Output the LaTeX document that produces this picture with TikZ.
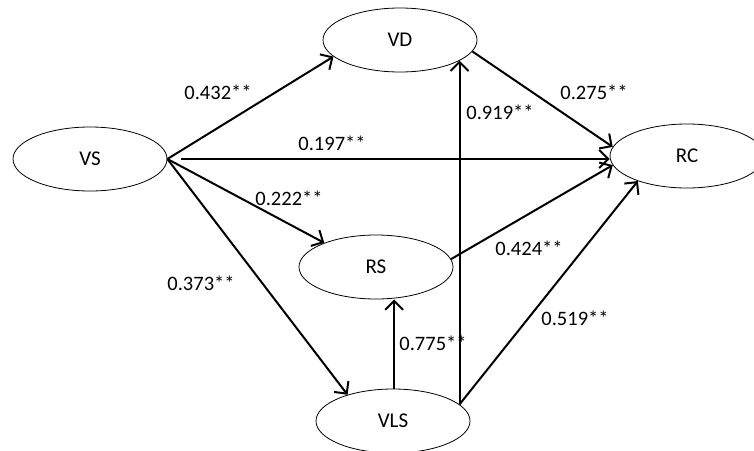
\documentclass[tikz,border=0pt]{standalone}
\usepackage{fontspec}
\setmainfont{Carlito}
\usetikzlibrary{shapes.geometric,arrows.meta}
\begin{document}
\begin{tikzpicture}[x=1pt,y=-1pt,
  lat/.style={ellipse,draw,line width=0.8pt,minimum width=154pt,minimum height=64pt,inner sep=0pt,font=\fontsize{21}{24}\selectfont},
  arr/.style={line width=2pt,-{Straight Barb[length=9pt,width=18pt,line width=2pt]}},
  coef/.style={font=\fontsize{20.5}{24}\selectfont,inner sep=0pt}]
\useasboundingbox (0,0) rectangle (754,450);
\clip (0,0) rectangle (754,450);
\node[lat] (VS) at (90,159) {VS};
\node[lat] (VD) at (400,40) {VD};
\node[lat] (RC) at (687,156) {RC};
\node[lat] (RS) at (376,267) {RS};
\node[lat] (VLS) at (393,421) {VLS};
% arrows
\draw[arr] (VS.east) -- (VD.194);
\draw[arr] ([xshift=14pt]VS.east) -- (VS.east -| RC.west);
\draw[arr] (VS.east) -- (RS.155);
\draw[arr] (VS.east) -- (VLS.150);
\draw[arr] (VD.351) -- (RC.173);
\draw[arr] (VLS.14) -- (VLS.14 |- VD.341);
\draw[arr] (RS.6) -- (RC.187);
\draw[arr] (VLS.14) -- (RC.207);
\draw[arr] (VLS.88) -- (VLS.88 |- RS.south);
% coefficients
\node[coef] (c1) at (218,92) {0.432**};
\node[coef] (c2) at (332,143) {0.197**};
\node[coef] (c3) at (289,198) {0.222**};
\node[coef] (c4) at (201,283) {0.373**};
\node[coef] (c5) at (500,112) {0.919**};
\node[coef] (c6) at (594,92) {0.275**};
\node[coef] (c7) at (529,248) {0.424**};
\node[coef] (c8) at (575,318) {0.519**};
\node[coef] (c9) at (433,343) {0.775**};
\end{tikzpicture}
\end{document}
